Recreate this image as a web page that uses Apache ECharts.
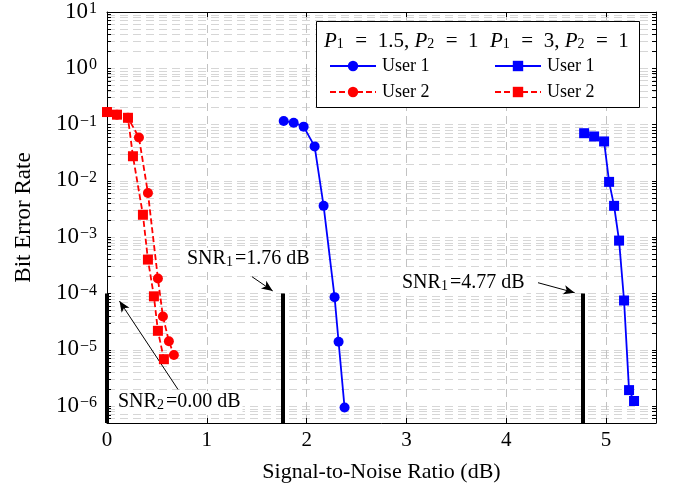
<!DOCTYPE html>
<html>
<head>
<meta charset="utf-8">
<script src="https://cdn.jsdelivr.net/npm/echarts@6/dist/echarts.min.js"></script>
<style>html,body{margin:0;padding:0;background:#fff}#c{width:678px;height:488px}</style>
</head>
<body>
<div id="c"></div>
<script>
// ---- data ----
const user1P15Snr = [1.77, 1.87, 1.97, 2.08, 2.17, 2.28, 2.32, 2.38];
const user1P15Ber = [0.116, 0.108, 0.092, 0.041, 0.0036, 8.6e-5, 1.39e-5, 9.4e-7];
const user2P15Snr = [0.0, 0.1, 0.21, 0.32, 0.41, 0.51, 0.56, 0.62, 0.67];
const user2P15Ber = [0.167, 0.150, 0.132, 0.059, 0.0061, 1.85e-4, 3.9e-5, 1.42e-5, 8.1e-6];
const user1P3Snr = [4.78, 4.88, 4.98, 5.03, 5.08, 5.13, 5.18, 5.23, 5.28];
const user1P3Ber = [0.0703, 0.0615, 0.0502, 0.0096, 0.0036, 8.7e-4, 7.5e-5, 1.92e-6, 1.23e-6];
const user2P3Snr = [0.0, 0.1, 0.21, 0.26, 0.36, 0.41, 0.47, 0.51, 0.57];
const user2P3Ber = [0.167, 0.150, 0.132, 0.0274, 0.0025, 4.0e-4, 8.9e-5, 2.17e-5, 6.8e-6];
const thresholdSnr = [0, 1.76, 4.77];
const thresholdBer = 1e-4;
const xTicks = [0, 1, 2, 3, 4, 5];
const yDecades = [-6, -5, -4, -3, -2, -1, 0, 1];
const xMin = 0, xMax = 5.5, berMin = 5e-7, berMax = 10;

// ---- helpers ----
const L = v => Math.log10(v);
const yMin = L(berMin), yMax = L(berMax);
const pts = (xs, ys) => xs.map((x, i) => [x, L(ys[i])]);
const FONT = '"Liberation Serif", "DejaVu Serif", serif';

const yMinorVals = [];
for (let e = -7; e <= 1; e++) for (let k = 1; k <= 9; k++) {
  const v = L(k * Math.pow(10, e));
  if (v >= yMin - 1e-9 && v <= yMax + 1e-9) yMinorVals.push(v);
}

const gridLines = yMinorVals.map(v => ({ yAxis: v }))
  .concat(xTicks.filter(x => x > 0).map(x => ({ xAxis: x, lineStyle: { type: [8, 5], color: '#c2c2c2', width: 1 } })));

const sup = v => (v < 0 ? '\u2212' + (-v) : '' + v);

const chart = echarts.init(document.getElementById('c'), null, { renderer: 'canvas' });

const axisCommon = {
  type: 'value',
  axisLine: { show: true, onZero: false, lineStyle: { color: '#000', width: 1 } },
  splitLine: { show: false },
};

const hdrRich = {
  i: { fontFamily: FONT, fontSize: 21, fontStyle: 'italic', lineHeight: 21, verticalAlign: 'top' },
  n: { fontFamily: FONT, fontSize: 21, lineHeight: 21, verticalAlign: 'top' },
  u: { fontFamily: FONT, fontSize: 14, lineHeight: 14, padding: [11, 1, 0, 0], verticalAlign: 'bottom' }
};
const annRich = {
  n: { fontFamily: FONT, fontSize: 20, lineHeight: 20, verticalAlign: 'top' },
  u: { fontFamily: FONT, fontSize: 14, lineHeight: 14, padding: [9, 2, 0, 0], verticalAlign: 'bottom' }
};
const legendCommon = {
  orient: 'vertical', top: 52, itemWidth: 46, itemHeight: 13, itemGap: 8,
  textStyle: { fontFamily: FONT, fontSize: 18, color: '#000', padding: [0, 0, 0, 1] },
  z: 10
};

chart.setOption({
  animation: false,
  backgroundColor: '#fff',
  grid: { left: 107, right: 22, top: 8, bottom: 64, containLabel: false },
  xAxis: [
    Object.assign({}, axisCommon, {
      position: 'bottom', min: xMin, max: xMax,
      axisTick: { inside: true, length: 5, customValues: xTicks, lineStyle: { color: '#000' } },
      axisLabel: { customValues: xTicks, color: '#000', fontFamily: FONT, fontSize: 21, margin: 7 },
      name: 'Signal-to-Noise Ratio (dB)', nameLocation: 'middle', nameGap: 38,
      nameTextStyle: { color: '#000', fontFamily: FONT, fontSize: 22 }
    }),
    Object.assign({}, axisCommon, {
      position: 'top', min: xMin, max: xMax,
      axisTick: { inside: true, length: 5, customValues: xTicks, lineStyle: { color: '#000' } },
      axisLabel: { show: false }
    })
  ],
  yAxis: [
    Object.assign({}, axisCommon, {
      position: 'left', min: yMin, max: yMax,
      axisTick: { inside: true, length: 4, customValues: yMinorVals, lineStyle: { color: '#000' } },
      axisLabel: {
        customValues: yDecades, margin: 10, color: '#000',
        formatter: v => '{b|10}{s|' + sup(Math.round(v)) + '}',
        rich: {
          b: { fontFamily: FONT, fontSize: 23, color: '#000', lineHeight: 22, verticalAlign: 'bottom' },
          s: { fontFamily: FONT, fontSize: 16, color: '#000', lineHeight: 16, padding: [0, 0, 14, 1], verticalAlign: 'top' }
        }
      },
      name: 'Bit Error Rate', nameLocation: 'middle', nameGap: 72, nameRotate: 90,
      nameTextStyle: { color: '#000', fontFamily: FONT, fontSize: 23 }
    }),
    Object.assign({}, axisCommon, {
      position: 'right', min: yMin, max: yMax,
      axisTick: { inside: true, length: 4, customValues: yMinorVals, lineStyle: { color: '#000' } },
      axisLabel: { show: false }
    })
  ],
  legend: [
    Object.assign({}, legendCommon, { left: 324, data: ['User 1', 'User 2'] }),
    Object.assign({}, legendCommon, { left: 489, data: ['User 1\u200B', 'User 2\u200B'] })
  ],
  graphic: [
    { type: 'rect', z: 5, shape: { x: 316.5, y: 21.5, width: 323, height: 86 },
      style: { fill: '#fff', stroke: '#000', lineWidth: 1 } },
    { type: 'text', z: 11, style: { x: 324, y: 41, verticalAlign: 'middle',
      text: '{i|P}{u|1}{n|\u2002=\u20021.5, }{i|P}{u|2}{n|\u2002=\u20021}', rich: hdrRich } },
    { type: 'text', z: 11, style: { x: 490, y: 41, verticalAlign: 'middle',
      text: '{i|P}{u|1}{n|\u2002=\u20023, }{i|P}{u|2}{n|\u2002=\u20021}', rich: hdrRich } },
    ...[
      { x: 185, y: 259, t: '{n|SNR}{u|1}{n|=1.76 dB}' },
      { x: 400, y: 283, t: '{n|SNR}{u|1}{n|=4.77 dB}' },
      { x: 116, y: 402, t: '{n|SNR}{u|2}{n|=0.00 dB}' }
    ].map(a => ({ type: 'text', z: 8, style: {
      x: a.x, y: a.y, verticalAlign: 'middle', text: a.t, backgroundColor: '#fff', padding: [1, 2, 1, 2],
      rich: annRich } }))
  ],
  series: [
    { name: 'grid', type: 'line', data: [], silent: true, z: 0,
      markLine: { silent: true, z: 0, symbol: ['none', 'none'], label: { show: false },
        lineStyle: { type: [8, 5], color: '#d6d6d6', width: 1 }, emphasis: { disabled: true }, data: gridLines } },
    { name: 'thresholds', type: 'line', data: [], silent: true, z: 3,
      markLine: { silent: true, z: 3, symbol: ['none', 'none'], label: { show: false },
        lineStyle: { type: 'solid', color: '#000', width: 4 }, emphasis: { disabled: true },
        data: thresholdSnr.map(x => [{ coord: [x, L(thresholdBer)] }, { coord: [x, yMin] }]) } },
    { name: 'arrows', type: 'line', data: [], silent: true, z: 3,
      markLine: { silent: true, z: 3, symbol: ['none', 'arrow'], symbolSize: [7, 11], label: { show: false },
        lineStyle: { type: 'solid', color: '#000', width: 1 }, emphasis: { disabled: true },
        data: [
          [{ coord: [1.453, -3.703] }, { coord: [1.66, -3.955] }],
          [{ coord: [4.318, -3.809] }, { coord: [4.685, -3.986] }],
          [{ coord: [0.711, -5.704] }, { coord: [0.125, -4.135] }]
        ] } },
    { name: 'User 1', type: 'line', data: pts(user1P15Snr, user1P15Ber), symbol: 'circle', symbolSize: 10,
      color: '#0000ff', lineStyle: { color: '#0000ff', width: 1.8 }, itemStyle: { color: '#0000ff' }, z: 4 },
    { name: 'User 2', type: 'line', data: pts(user2P15Snr, user2P15Ber), symbol: 'circle', symbolSize: 10,
      color: '#ff0000', lineStyle: { color: '#ff0000', width: 1.8, type: [6, 3] }, itemStyle: { color: '#ff0000' }, z: 4 },
    { name: 'User 1\u200B', type: 'line', data: pts(user1P3Snr, user1P3Ber), symbol: 'rect', symbolSize: 10,
      color: '#0000ff', lineStyle: { color: '#0000ff', width: 1.8 }, itemStyle: { color: '#0000ff' }, z: 4 },
    { name: 'User 2\u200B', type: 'line', data: pts(user2P3Snr, user2P3Ber), symbol: 'rect', symbolSize: 10,
      color: '#ff0000', lineStyle: { color: '#ff0000', width: 1.8, type: [6, 3] }, itemStyle: { color: '#ff0000' }, z: 4 }
  ]
});
</script>
</body>
</html>
